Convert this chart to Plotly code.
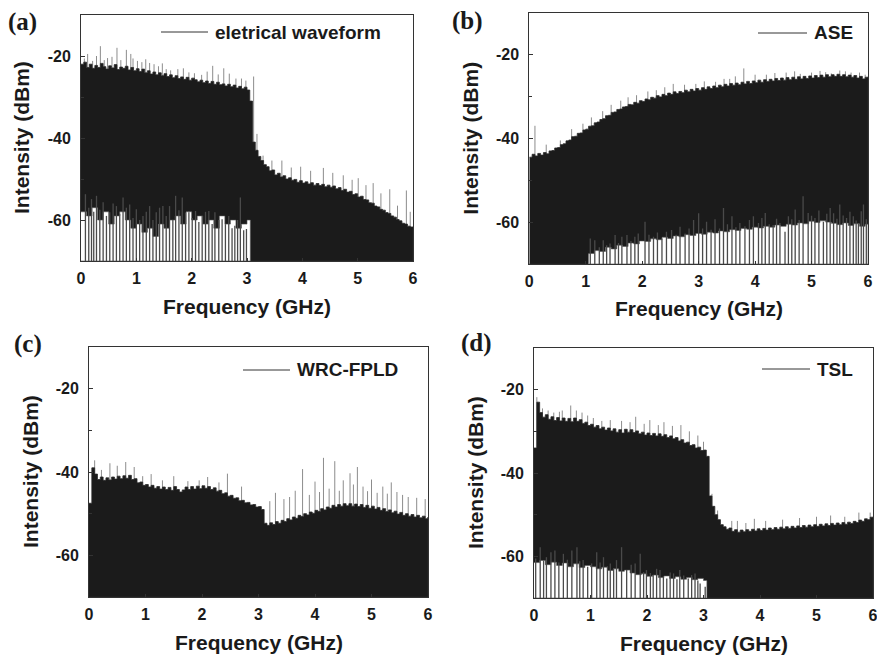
import numpy as np
import plotly.graph_objects as go

W, H = 877, 656
Y_MIN, Y_MAX = -70, -10

# frequency grid (GHz) of the sampled envelopes
freq = np.round(np.linspace(0, 6, 121), 2)

# ---------------- (a) electrical waveform ----------------
upper_a = [-22, -21.5, -22.8, -22, -23, -22.3, -22.8, -21.8, -22.6, -23.2,
           -22.4, -22.9, -22.1, -23.3, -22.7, -23, -22.5, -23.4, -22.8, -23.6,
           -23.1, -23.8, -23.2, -24.1, -23.6, -24.4, -23.9, -24.6, -24.1, -24.8,
           -24.3, -25, -24.6, -25.3, -24.8, -25.5, -25.1, -25.7, -25.2, -25.9,
           -25.4, -25.8, -26.3, -25.9, -26.5, -26.1, -26.7, -26.2, -26.9, -26.4,
           -27, -26.8, -27.3, -26.9, -27.5, -27.1, -27.8, -27.4, -28, -27.6,
           -28.3, -31, -41, -43, -44.5, -45.5, -46.5, -47, -48, -47.8,
           -49, -48.6, -49.5, -49.2, -50, -49.7, -50.3, -50.1, -50.8, -50.4,
           -51, -50.7, -51.2, -50.9, -51.5, -51.1, -51.6, -51.3, -51.9, -51.5,
           -52, -51.7, -52.4, -52.1, -52.8, -52.5, -53.2, -53, -53.8, -53.6,
           -54.4, -54.2, -55, -55.1, -55.8, -55.9, -56.6, -56.8, -57.4, -57.6,
           -58.2, -58.4, -59, -59.3, -59.9, -60.2, -60.8, -61, -61.5, -61.7, -62]
top_a_x = [0.06, 0.12, 0.21, 0.28, 0.35, 0.42, 0.48, 0.56, 0.65, 0.72, 0.82, 0.90, 0.94, 1.02,
           1.10, 1.17, 1.24, 1.32, 1.40, 1.47, 1.54, 1.62, 1.75, 1.85, 1.95, 2.05, 2.18, 2.28,
           2.38, 2.48, 2.58, 2.68, 2.80, 2.90, 2.98, 3.12, 3.18, 3.29, 3.45, 3.63, 3.80, 3.97,
           4.15, 4.38, 4.55, 4.74, 4.90, 5.01, 5.15, 5.28, 5.42, 5.58, 5.72, 5.88, 5.95]
top_a_hi = [-20.6, -19.5, -21.2, -20, -17.6, -21, -20.5, -20.2, -18, -21, -18.5, -19.5, -20.6, -21.2,
            -21.5, -20.8, -21.7, -22, -22.5, -21.8, -23.2, -23.5, -23.2, -23, -24, -24.2, -24.6, -23.8,
            -22.4, -24.5, -23, -24.3, -25.5, -25.5, -26, -25, -39, -44.3, -45.5, -45.5, -47.2, -47,
            -48, -47.3, -48.5, -49.1, -50.2, -49.8, -51.5, -51, -53.5, -52.5, -56.5, -52.8, -58]
floor_a_x = np.round(np.arange(31) * 0.1, 2)
floor_a = [-58, -59, -57, -60, -58, -61, -59, -58, -60, -62,
           -61, -63, -62, -64, -61, -62, -60, -59, -61, -58,
           -60, -59, -61, -60, -62, -59, -61, -60, -62, -61, -60]
floor_a_end = 3.06
low_a_x = [0.08, 0.14, 0.19, 0.23, 0.28, 0.34, 0.40, 0.46, 0.52, 0.58, 0.64, 0.70, 0.76, 0.82, 0.88,
           0.94, 1.00, 1.06, 1.12, 1.18, 1.24, 1.30, 1.36, 1.42, 1.48, 1.54, 1.60, 1.66, 1.71, 1.77,
           1.83, 1.89, 1.95, 2.01, 2.07, 2.13, 2.19, 2.25, 2.31, 2.37, 2.42, 2.49, 2.55, 2.61, 2.67,
           2.73, 2.78, 2.83, 2.88, 2.94, 2.99]
low_a_hi = [-53.7, -57, -54.9, -58, -54.1, -57.5, -55.7, -59, -58.1, -56, -56.6, -58.5, -54.5, -57, -56.2,
            -59.5, -57.4, -60, -59, -58, -56.6, -60, -58.1, -57, -56.6, -59, -56.6, -60, -54.1, -57.6,
            -54.5, -58.2, -58.1, -59.5, -57.8, -60.5, -59, -58, -57.8, -61, -58.1, -60, -59.8, -61, -59,
            -62, -61.4, -60, -54.5, -62.5, -62.2]

# ---------------- (b) ASE ----------------
upper_b = [-44.5, -43.8, -44.2, -43.6, -44, -43.4, -43.7, -43, -42.9, -42.3,
           -42.2, -41.5, -41.3, -40.6, -40.4, -39.6, -39.5, -38.8, -38.7, -38,
           -37.8, -37.1, -37, -36.3, -36.1, -35.5, -35.3, -34.6, -34.5, -33.8,
           -33.7, -33.1, -33, -32.5, -32.4, -31.9, -32, -31.4, -31.6, -31,
           -31.2, -30.6, -30.8, -30.2, -30.4, -29.8, -30.1, -29.5, -29.8, -29.2,
           -29.5, -28.9, -29.3, -28.8, -29.1, -28.5, -28.9, -28.3, -28.7, -28.1,
           -28.5, -27.9, -28.3, -27.7, -28.1, -27.5, -27.9, -27.3, -27.7, -27.1,
           -27.5, -26.9, -27.3, -26.8, -27.2, -26.6, -27, -26.4, -26.9, -26.3,
           -26.7, -26.1, -26.6, -26, -26.4, -25.9, -26.3, -25.7, -26.2, -25.6,
           -26.1, -25.5, -26, -25.4, -25.9, -25.3, -25.8, -25.2, -25.7, -25.1,
           -25.6, -25, -25.5, -24.9, -25.4, -24.8, -25.3, -24.8, -25.2, -24.7,
           -25.2, -24.8, -25.3, -24.9, -25.4, -25, -25.6, -25.2, -25.8, -25.4, -26]
top_b_x = [0.10, 0.30, 0.55, 0.75, 0.95, 1.10, 1.30, 1.45, 1.62, 1.75, 1.90, 2.10, 2.25, 2.40,
           2.55, 2.75, 2.95, 3.10, 3.30, 3.45, 3.55, 3.65, 3.80, 4.00, 4.20, 4.35, 4.55, 4.70,
           4.80, 5.00, 5.15, 5.25, 5.35, 5.50, 5.60, 5.70, 5.85, 5.95]
top_b_hi = [-37, -41.5, -40.5, -37.8, -36.5, -35, -33.5, -32, -31, -30.2, -29.7, -28.8, -28.5, -27.8,
            -27, -27.2, -27, -26.4, -26.5, -25.8, -25.8, -25.2, -23.3, -24.8, -24.8, -24.4, -24.3, -24,
            -24.6, -24.3, -23.9, -24.2, -24.5, -23.8, -24, -24.3, -24.3, -24.8]
floor_b_x = np.round(1.05 + np.arange(50) * 0.1, 2)
floor_b = [-67.5, -66.8, -67, -66, -66.4, -65.5, -65.8, -65, -65.2, -64.5,
           -64.6, -64, -64.2, -63.6, -63.9, -63.3, -63.5, -63, -63.2, -62.7,
           -62.9, -62.4, -62.6, -62.1, -62.3, -61.8, -62, -61.5, -61.7, -61.2,
           -61.4, -61, -61.2, -60.7, -61, -60.5, -60.7, -60.2, -60.4, -59.8,
           -60.1, -59.7, -60, -60.3, -60.6, -60.2, -60.8, -60.4, -61, -60.5]
floor_b_end = 6.0
low_b_x = [1.08, 1.16, 1.24, 1.31, 1.37, 1.43, 1.52, 1.58, 1.64, 1.73,
           1.80, 1.87, 1.93, 2.05, 2.12, 2.20, 2.27, 2.35, 2.43, 2.52,
           2.60, 2.67, 2.76, 2.83, 2.91, 3.00, 3.07, 3.14, 3.22, 3.29,
           3.37, 3.44, 3.51, 3.59, 3.66, 3.73, 3.82, 3.90, 3.97, 4.06,
           4.12, 4.18, 4.25, 4.32, 4.38, 4.44, 4.53, 4.59, 4.65, 4.71,
           4.78, 4.85, 4.94, 5.00, 5.06, 5.13, 5.21, 5.27, 5.33, 5.39,
           5.45, 5.50, 5.56, 5.62, 5.68, 5.74, 5.79, 5.83, 5.88, 5.92, 5.97]
low_b_hi = [-63.9, -64.3, -66, -64.3, -65.5, -65.1, -63.1, -65, -63.5, -63.1,
            -64.5, -63.5, -62.7, -59.9, -63, -63.5, -62.5, -63.9, -62.3, -61.9,
            -63, -61.1, -62.7, -61.5, -59.5, -57.9, -61.5, -59.9, -61.8, -59.3,
            -61.5, -56.6, -60.5, -58.6, -61.2, -60.2, -61, -59.5, -58.6, -60.2,
            -59, -57.8, -60.5, -60.7, -59.2, -60.2, -62.3, -58.6, -59.3, -57,
            -59.5, -53.8, -57.8, -58.5, -59, -57.2, -59.9, -58, -56.6, -57.9,
            -59.2, -55.8, -58.4, -59, -57.5, -58.6, -59.6, -60.2, -57.4, -55.8, -59.3]

# ---------------- (c) WRC-FPLD ----------------
upper_c = [-47.5, -39, -40.5, -41.8, -41.2, -42, -41.4, -41.9, -41.2, -41.7,
           -41, -41.6, -40.9, -41.5, -40.8, -41.8, -41.6, -42.6, -42.4, -43.2,
           -43, -43.6, -43.2, -43.9, -43.5, -44.1, -43.6, -44.2, -43.7, -44.4,
           -43.5, -44.2, -44.8, -44.3, -43.6, -44.2, -43.5, -44.1, -43.4, -44,
           -43.3, -43.9, -43.5, -44.2, -43.8, -44.6, -44.4, -45.2, -45, -45.8,
           -45.6, -46.3, -46.2, -46.9, -46.8, -47.4, -47.3, -47.9, -47.8, -48.4,
           -48.3, -49, -52.3, -52.8, -52.2, -52.6, -51.9, -52.3, -51.6, -51.9,
           -51.2, -51.5, -50.8, -51.1, -50.4, -50.7, -50, -50.3, -49.6, -49.9,
           -49.2, -49.5, -48.8, -49.1, -48.4, -48.7, -48, -48.4, -47.8, -48.2,
           -47.6, -48.1, -47.6, -48.2, -47.7, -48.3, -47.8, -48.5, -48, -48.7,
           -48.2, -48.9, -48.5, -49.2, -48.8, -49.5, -49.1, -49.8, -49.4, -50.1,
           -49.7, -50.4, -50, -50.6, -50.2, -50.8, -50.4, -51, -50.6, -51.2, -50.8]
top_c_x = [0.10, 0.22, 0.37, 0.50, 0.65, 0.80, 0.95, 1.10, 1.30, 1.50,
           1.75, 1.95, 2.10, 2.30, 2.45, 2.70, 3.20, 3.30, 3.45, 3.55,
           3.65, 3.78, 3.90, 4.00, 4.08, 4.15, 4.25, 4.35, 4.43, 4.50,
           4.62, 4.68, 4.75, 4.85, 4.93, 5.00, 5.10, 5.20, 5.28, 5.35,
           5.45, 5.55, 5.65, 5.80, 5.95]
top_c_hi = [-37.2, -39.5, -37.9, -38.5, -37.6, -38.8, -41, -40.5, -42, -41,
            -42.2, -42, -41.2, -42.5, -40.4, -43.5, -47, -45, -46.5, -46,
            -44.5, -39.3, -45.5, -42.3, -44.8, -36.6, -44, -37.4, -44.5, -42,
            -40.3, -43, -38.8, -43.5, -44.6, -41.8, -45, -43.5, -45.2, -42.5,
            -44.8, -45.5, -46, -46.2, -46.5]

# ---------------- (d) TSL ----------------
upper_d = [-34, -23, -25.5, -26.6, -26, -27.1, -26.5, -27.4, -26.7, -27.5,
           -26.8, -27.6, -26.9, -27.7, -26.8, -27.6, -27.2, -28.1, -27.8, -28.6,
           -28.3, -29, -28.6, -29.4, -29, -29.7, -29.2, -29.9, -29.4, -30.2,
           -29.6, -30.4, -29.5, -30.2, -29.6, -30.3, -29.9, -30.6, -30.2, -30.9,
           -30.4, -31, -30.5, -31.1, -30.6, -31.2, -30.8, -31.5, -31.1, -31.8,
           -31.5, -32.3, -32, -32.8, -32.6, -33.4, -33.2, -34, -33.8, -34.6,
           -34.5, -36, -45.5, -48, -50, -51.2, -52.4, -52.9, -53.5, -53.2,
           -54, -53.6, -54.2, -53.7, -54.1, -53.6, -54, -53.5, -53.9, -53.4,
           -53.8, -53.3, -53.7, -53.2, -53.6, -53.1, -53.5, -53, -53.4, -52.9,
           -53.3, -52.8, -53.2, -52.7, -53.1, -52.6, -53, -52.5, -52.9, -52.4,
           -52.8, -52.3, -52.7, -52.2, -52.6, -52.1, -52.5, -52, -52.4, -51.9,
           -52.3, -51.8, -52.1, -51.6, -51.9, -51.3, -51.6, -51, -51.2, -50.6, -50.8]
top_d_x = [0.05, 0.15, 0.25, 0.35, 0.45, 0.50, 0.65, 0.75, 0.85, 0.95, 1.05, 1.20, 1.35, 1.55,
           1.70, 1.80, 1.95, 2.05, 2.20, 2.30, 2.45, 2.60, 2.75, 2.90, 3.00, 3.15, 3.25, 3.50,
           3.60, 3.75, 3.90, 4.10, 4.40, 4.70, 5.00, 5.25, 5.50, 5.75, 5.95]
top_d_hi = [-21.8, -24.5, -25, -25.5, -25.3, -25, -23.8, -25, -25.5, -26.2, -26.8, -27.5, -27.3, -27.5,
            -27.8, -26.5, -28.2, -27.3, -28.5, -27.8, -28.7, -28.5, -30, -31, -32.5, -45, -49, -51.5,
            -51.5, -52, -51, -51.5, -51.2, -50.8, -50.5, -50.2, -50.5, -49.5, -49.5]
floor_d_x = np.round(np.arange(31) * 0.1, 2)
floor_d = [-61.5, -61, -62, -61.4, -62.2, -61.6, -62.5, -61.8, -62.7, -62.2,
           -62.5, -63, -62.6, -63.4, -63, -63.6, -63.3, -64, -64.4, -64.2,
           -64.8, -64.5, -65.1, -64.7, -65.3, -64.9, -65.5, -65.1, -65.6, -65.3, -65.8]
floor_d_end = 3.06
low_d_x = [0.03, 0.11, 0.17, 0.22, 0.30, 0.37, 0.44, 0.52, 0.59, 0.67,
           0.76, 0.81, 0.87, 0.95, 1.02, 1.11, 1.17, 1.23, 1.30, 1.35,
           1.41, 1.46, 1.55, 1.64, 1.72, 1.79, 1.88, 1.94, 1.99, 2.06,
           2.11, 2.17, 2.23, 2.29, 2.35, 2.41, 2.47, 2.53, 2.58, 2.65,
           2.73, 2.79, 2.85, 2.90, 2.94, 3.03]
low_d_hi = [-60.5, -57.8, -61, -60.2, -59, -58.6, -61.5, -59.4, -60.8, -58.6,
            -57.8, -61.2, -60.9, -62.5, -61.7, -59, -61.5, -60.2, -62.4, -61.7,
            -62.8, -60.9, -57.8, -63.3, -62, -61.7, -59.4, -63.8, -63.3, -64,
            -64.5, -63, -63.3, -64.8, -65.3, -63.9, -64.1, -65.5, -63.3, -64.6,
            -65.3, -64.5, -64.1, -65.8, -66.5, -67.3]

panel_labels = ["(a)", "(b)", "(c)", "(d)"]
legend_names = ["eletrical waveform", "ASE", "WRC-FPLD", "TSL"]
x_title = "Frequency (GHz)"
y_title = "Intensity (dBm)"
x_ticks = [0, 1, 2, 3, 4, 5, 6]
y_ticks = [-60, -40, -20]
y_ticktext = ["-60", "-40", "-20"]

BLACK = "#1b1b1b"
SPIKE_TOP = "#8c8c8c"
SPIKE_LOW = "#4a4a4a"
SANS = "Liberation Sans, Arial, sans-serif"
SERIF = "Liberation Serif, Times New Roman, serif"

# pixel boxes of the four plot areas (left, right, top, bottom)
boxes = [(81, 413, 15, 261), (529.3, 868, 12.7, 264), (89, 428, 347, 597), (534, 873, 348, 598)]
label_pos = [(22, 22), (467, 21), (28, 344), (476, 343)]
legend_line = [(161, 208, 32), (758, 807, 33), (243, 290, 370), (762, 810, 369)]


def px(x):
    return x / W


def py(y):
    return 1 - y / H


def spikes(xs, his, base=Y_MIN):
    X, Y = [], []
    for x, h in zip(xs, his):
        X += [x, x, None]
        Y += [base, h, None]
    return X, Y


panels = [
    dict(upper=upper_a, top=(top_a_x, top_a_hi), floor=(floor_a_x, floor_a, floor_a_end), low=(low_a_x, low_a_hi)),
    dict(upper=upper_b, top=(top_b_x, top_b_hi), floor=(floor_b_x, floor_b, floor_b_end), low=(low_b_x, low_b_hi)),
    dict(upper=upper_c, top=(top_c_x, top_c_hi), floor=None, low=None),
    dict(upper=upper_d, top=(top_d_x, top_d_hi), floor=(floor_d_x, floor_d, floor_d_end), low=(low_d_x, low_d_hi)),
]

fig = go.Figure()
annotations = []
shapes = []
layout_axes = {}

for i, p in enumerate(panels):
    n = i + 1
    xa = "x" if n == 1 else f"x{n}"
    ya = "y" if n == 1 else f"y{n}"

    # gray spikes above the envelope (drawn first, black covers their lower part)
    sx, sy = spikes(*p["top"])
    fig.add_trace(go.Scatter(x=sx, y=sy, mode="lines", line=dict(color=SPIKE_TOP, width=1),
                             xaxis=xa, yaxis=ya, showlegend=False, hoverinfo="skip"))
    # black spectrum body
    fx = list(freq) + [6, 0]
    fy = list(p["upper"]) + [Y_MIN, Y_MIN]
    fig.add_trace(go.Scatter(x=fx, y=fy, mode="lines", fill="toself", fillcolor=BLACK,
                             line=dict(color="#2a2a2a", width=0.8, shape="hv"),
                             xaxis=xa, yaxis=ya, showlegend=False, hoverinfo="skip"))
    if p["floor"] is not None:
        flx, fly, fend = p["floor"]
        wx = list(flx) + [fend, fend, flx[0]]
        wy = list(fly) + [fly[-1], Y_MIN, Y_MIN]
        fig.add_trace(go.Scatter(x=wx, y=wy, mode="lines", fill="toself", fillcolor="white",
                                 line=dict(color="#555555", width=0.6, shape="hv"),
                                 xaxis=xa, yaxis=ya, showlegend=False, hoverinfo="skip"))
    if p["low"] is not None:
        lx, ly = spikes(*p["low"])
        fig.add_trace(go.Scatter(x=lx, y=ly, mode="lines", line=dict(color=SPIKE_LOW, width=1.3),
                                 xaxis=xa, yaxis=ya, showlegend=False, hoverinfo="skip"))

    l, r, t, b = boxes[i]
    common = dict(showline=True, mirror=True, linecolor="#333333", linewidth=1,
                  showgrid=False, zeroline=False, ticks="inside", tickcolor="#333333",
                  ticklabeloverflow="allow",
                  tickfont=dict(family=SANS, size=16, color="#1a1a1a", weight="bold"))
    layout_axes["xaxis" if n == 1 else f"xaxis{n}"] = dict(
        domain=[px(l), px(r)], anchor=ya, range=[0, 6], tickvals=x_ticks, ticklen=3,
        ticklabelstandoff=3, **common)
    layout_axes["yaxis" if n == 1 else f"yaxis{n}"] = dict(
        domain=[py(b), py(t)], anchor=xa, range=[Y_MIN, Y_MAX], tickvals=y_ticks, ticktext=y_ticktext,
        ticklen=4, ticklabelstandoff=6,
        minor=dict(tickvals=[-50, -30, -10], ticks="inside", ticklen=3, tickcolor="#333333"),
        **common)

    # axis titles
    annotations.append(dict(text=x_title, x=px((l + r) / 2), y=py(b + 45), xref="paper", yref="paper",
                            showarrow=False, font=dict(family=SANS, size=21, color="#1a1a1a", weight="bold"),
                            xanchor="center", yanchor="middle"))
    annotations.append(dict(text=y_title, x=px(l - 59), y=py((t + b) / 2), xref="paper", yref="paper",
                            showarrow=False, textangle=-90,
                            font=dict(family=SANS, size=21, color="#1a1a1a", weight="bold"),
                            xanchor="center", yanchor="middle"))
    # panel letter
    lx0, ly0 = label_pos[i]
    annotations.append(dict(text=panel_labels[i], x=px(lx0), y=py(ly0), xref="paper", yref="paper",
                            showarrow=False, font=dict(family=SERIF, size=25, color="#1a1a1a", weight="bold"),
                            xanchor="center", yanchor="middle"))
    # legend sample and text
    x1, x2, yl = legend_line[i]
    shapes.append(dict(type="line", xref="paper", yref="paper", x0=px(x1), x1=px(x2), y0=py(yl), y1=py(yl),
                       line=dict(color="#333333", width=1)))
    annotations.append(dict(text=legend_names[i], x=px(x2 + 5), y=py(yl), xref="paper", yref="paper",
                            showarrow=False, font=dict(family=SANS, size=19, color="#1a1a1a", weight="bold"),
                            xanchor="left", yanchor="middle"))

fig.update_layout(width=W, height=H, margin=dict(l=0, r=0, t=0, b=0, autoexpand=False),
                  paper_bgcolor="white", plot_bgcolor="white",
                  annotations=annotations, shapes=shapes, showlegend=False, **layout_axes)

fig.write_html("out.html", config={"displayModeBar": False},
               post_script="document.body.style.margin='0px';document.body.style.padding='0px';"
                           "document.body.style.overflow='hidden';")
